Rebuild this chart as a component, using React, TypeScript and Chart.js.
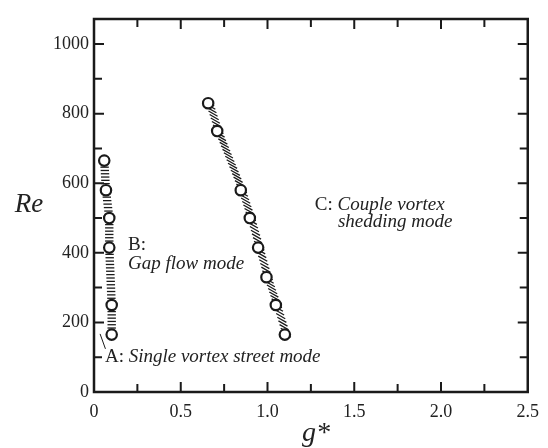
import React, { useEffect, useRef } from "react";
import { Chart, registerables } from "chart.js";

Chart.register(...registerables);

// ---- data ----
const gapFlowG = [0.059, 0.069, 0.088, 0.088, 0.102, 0.102];
const gapFlowRe = [665, 580, 500, 415, 250, 165];
const coupleG = [0.658, 0.71, 0.846, 0.898, 0.946, 0.994, 1.048, 1.1];
const coupleRe = [830, 750, 580, 500, 415, 330, 250, 165];
const leaderG = [0.035, 0.066];
const leaderRe = [167, 124];

const xTickValues = [0, 0.25, 0.5, 0.75, 1.0, 1.25, 1.5, 1.75, 2.0, 2.25, 2.5];
const xTickLabels = ["0", "", "0.5", "", "1.0", "", "1.5", "", "2.0", "", "2.5"];
const yTickValues = [0, 100, 200, 300, 400, 500, 600, 700, 800, 900, 1000];
const yTickLabels = ["0", "", "200", "", "400", "", "600", "", "800", "", "1000"];
const xMin = 0;
const xMax = 2.5;
const yMin = 0;
const yMax = 1072;

const xTitle = "g*";
const yTitle = "Re";

// annotation texts (anchored in data coordinates)
const annotations = [
  { g: 0.063, re: 100, plain: "A: ", italic: "Single vortex street mode" },
  { g: 0.196, re: 423, plain: "B:", italic: "" },
  { g: 0.196, re: 368, plain: "", italic: "Gap flow mode" },
  { g: 1.273, re: 538, plain: "C: ", italic: "Couple vortex" },
  { g: 1.406, re: 489, plain: "", italic: "shedding mode" },
];

const SERIF = '"Liberation Serif", "DejaVu Serif", "Times New Roman", serif';
const INK = "#1a1a1a";

function toPts(xs: number[], ys: number[]) {
  return xs.map((x, i) => ({ x, y: ys[i] }));
}

const hatchPlugin = {
  id: "hatchBands",
  beforeDatasetsDraw(chart: any) {
    const ctx = chart.ctx;
    const bands = [
      { index: 0, dir: [1, 0], half: 4.2, off: [0, 0], step: 3.3 },
      { index: 1, dir: [0.87, 0.5], half: 5.2, off: [1.5, 0], step: 3.5 },
    ];
    ctx.save();
    ctx.strokeStyle = INK;
    ctx.lineWidth = 1.3;
    ctx.lineCap = "butt";
    for (const b of bands) {
      const pts = chart.getDatasetMeta(b.index).data;
      for (let i = 0; i < pts.length - 1; i++) {
        const p0 = pts[i];
        const p1 = pts[i + 1];
        const dy = p1.y - p0.y;
        const n = Math.max(1, Math.round(Math.abs(dy) / b.step));
        for (let k = 0; k <= n; k++) {
          const t = k / n;
          const cx = p0.x + (p1.x - p0.x) * t + b.off[0];
          const cy = p0.y + dy * t + b.off[1];
          ctx.beginPath();
          ctx.moveTo(cx - b.dir[0] * b.half, cy - b.dir[1] * b.half);
          ctx.lineTo(cx + b.dir[0] * b.half, cy + b.dir[1] * b.half);
          ctx.stroke();
        }
      }
    }
    ctx.restore();
  },
  afterDraw(chart: any) {
    const ctx = chart.ctx;
    const { left, right, top, bottom } = chart.chartArea;
    const xs = chart.scales.x;
    const ys = chart.scales.y;
    ctx.save();
    ctx.strokeStyle = INK;
    // ticks (inward, all four sides)
    ctx.lineWidth = 2;
    xTickValues.forEach((v, i) => {
      if (v === xMin || v === xMax) return;
      const px = xs.getPixelForValue(v);
      const len = xTickLabels[i] ? 10 : 8;
      ctx.beginPath();
      ctx.moveTo(px, bottom);
      ctx.lineTo(px, bottom - len);
      ctx.moveTo(px, top);
      ctx.lineTo(px, top + len);
      ctx.stroke();
    });
    yTickValues.forEach((v, i) => {
      if (v === yMin) return;
      const py = ys.getPixelForValue(v);
      const len = yTickLabels[i] ? 10 : 8;
      ctx.beginPath();
      ctx.moveTo(left, py);
      ctx.lineTo(left + len, py);
      ctx.moveTo(right, py);
      ctx.lineTo(right - len, py);
      ctx.stroke();
    });
    // frame
    ctx.lineWidth = 2.5;
    ctx.strokeRect(left, top, right - left, bottom - top);

    // annotations
    ctx.fillStyle = "#222";
    ctx.textBaseline = "middle";
    ctx.textAlign = "left";
    for (const a of annotations) {
      let px = xs.getPixelForValue(a.g);
      const py = ys.getPixelForValue(a.re);
      if (a.plain) {
        ctx.font = `19px ${SERIF}`;
        ctx.fillText(a.plain, px, py);
        px += ctx.measureText(a.plain).width;
      }
      if (a.italic) {
        ctx.font = `italic 19px ${SERIF}`;
        ctx.fillText(a.italic, px, py);
      }
    }

    // axis titles
    ctx.textAlign = "center";
    ctx.font = `italic 27px ${SERIF}`;
    ctx.fillText(yTitle, left - 65, ys.getPixelForValue(538));
    ctx.font = `italic 28px ${SERIF}`;
    ctx.fillText(xTitle, (left + right) / 2 + 5, bottom + 42);
    ctx.restore();
  },
};

export default function App() {
  const canvasRef = useRef<HTMLCanvasElement | null>(null);

  useEffect(() => {
    const canvas = canvasRef.current;
    if (!canvas) return;
    const chart = new Chart(canvas, {
      type: "scatter",
      data: {
        datasets: [
          {
            label: "Gap flow boundary",
            data: toPts(gapFlowG, gapFlowRe),
            pointStyle: "circle",
            pointRadius: 5.2,
            pointBorderWidth: 2.2,
            pointBorderColor: INK,
            pointBackgroundColor: "#ffffff",
            showLine: false,
          },
          {
            label: "Couple vortex boundary",
            data: toPts(coupleG, coupleRe),
            pointStyle: "circle",
            pointRadius: 5.2,
            pointBorderWidth: 2.2,
            pointBorderColor: INK,
            pointBackgroundColor: "#ffffff",
            showLine: false,
          },
          {
            label: "leader",
            data: toPts(leaderG, leaderRe),
            showLine: true,
            borderColor: INK,
            borderWidth: 1,
            pointRadius: 0,
          } as any,
        ],
      },
      options: {
        animation: false,
        responsive: false,
        devicePixelRatio: 1,
        layout: { padding: { top: 19, right: 20, left: 0, bottom: 0 } },
        plugins: {
          legend: { display: false },
          tooltip: { enabled: false },
        },
        scales: {
          x: {
            type: "linear",
            min: xMin,
            max: xMax,
            afterBuildTicks: (s: any) => {
              s.ticks = xTickValues.map((v) => ({ value: v }));
            },
            afterFit: (s: any) => {
              s.height = 56;
            },
            grid: { display: false, drawTicks: false },
            border: { display: false },
            ticks: {
              autoSkip: false,
              maxRotation: 0,
              padding: 9,
              color: "#222",
              font: { family: SERIF, size: 18 },
              callback: (_v: any, i: number) => xTickLabels[i],
            },
          },
          y: {
            type: "linear",
            min: yMin,
            max: yMax,
            afterBuildTicks: (s: any) => {
              s.ticks = yTickValues.map((v) => ({ value: v }));
            },
            afterFit: (s: any) => {
              s.width = 94;
            },
            grid: { display: false, drawTicks: false },
            border: { display: false },
            ticks: {
              autoSkip: false,
              padding: 5,
              color: "#222",
              font: { family: SERIF, size: 18 },
              callback: (_v: any, i: number) => yTickLabels[i],
            },
          },
        },
      } as any,
      plugins: [hatchPlugin],
    });
    return () => chart.destroy();
  }, []);

  return (
    <div style={{ position: "absolute", left: 0, top: 0, width: 548, height: 448, background: "#fff" }}>
      <canvas ref={canvasRef} width={548} height={448} style={{ display: "block" }} />
    </div>
  );
}
